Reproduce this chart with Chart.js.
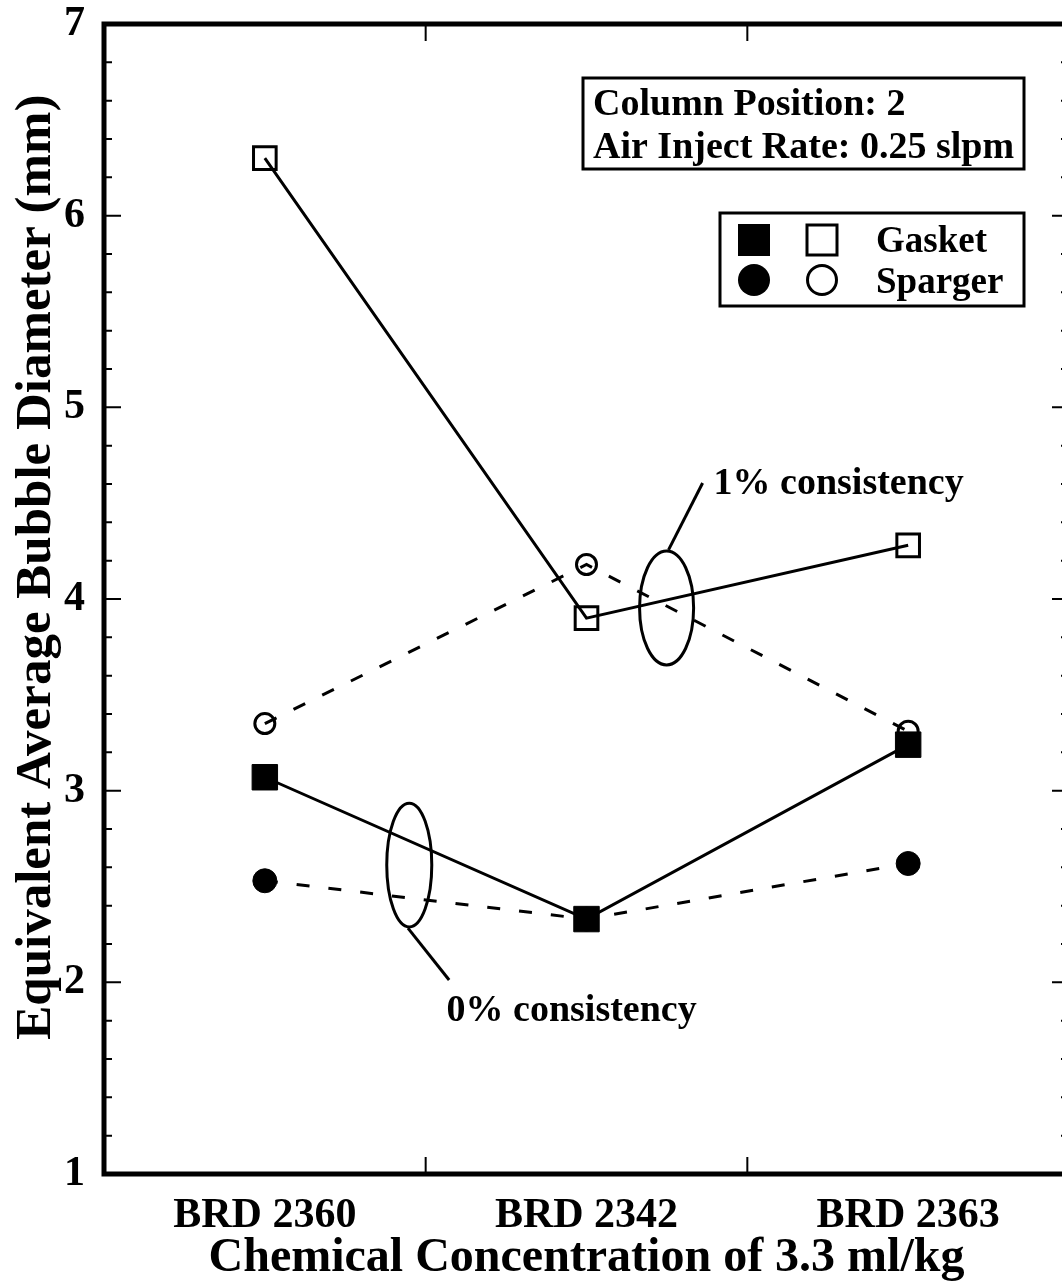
<!DOCTYPE html>
<html>
<head>
<meta charset="utf-8">
<script src="https://cdn.jsdelivr.net/npm/chart.js@4.4.0/dist/chart.umd.min.js"></script>
<style>
html, body { margin: 0; padding: 0; background: #fff; overflow: hidden; }
#wrap { width: 1088px; height: 1287px; }
</style>
</head>
<body>
<div id="wrap"><canvas id="bubbleChart" width="1088" height="1287"></canvas></div>
<script>
// data
const categories = ['BRD 2360', 'BRD 2342', 'BRD 2363'];
const yTicks = [1, 2, 3, 4, 5, 6, 7];
const gasket1 = [6.30, 3.90, 4.28];   // open squares, 1% consistency
const sparger1 = [3.35, 4.18, 3.31];  // open circles, 1% consistency
const gasket0 = [3.07, 2.33, 3.24];   // filled squares, 0% consistency
const sparger0 = [2.53, 2.33, 2.62];  // filled circles, 0% consistency

const FONT = 'Liberation Serif, Times New Roman, serif';

// notes on the plot, in axis units (x = category index)
const notes = [
    { text: '1% consistency', x: 1.395, y: 4.60, ex: 1.249, ey: 3.953, rx: 0.084, ry: 0.297,
      line: [1.361, 4.605, 1.255, 4.256] },
    { text: '0% consistency', x: 0.565, y: 1.85, ex: 0.449, ey: 2.612, rx: 0.070, ry: 0.323,
      line: [0.445, 2.283, 0.573, 2.012] }
];

const framePlugin = {
    id: 'frame',
    beforeDatasetsDraw(chart) {
        const { ctx, chartArea: a, scales: { x, y } } = chart;
        ctx.save();
        ctx.strokeStyle = '#000';
        ctx.lineWidth = 2;
        ctx.beginPath();
        for (let i = 1; i < 30; i++) {
            const py = y.getPixelForValue(1 + i * 0.2);
            const len = i % 5 === 0 ? 17 : 8;
            ctx.moveTo(a.left, py); ctx.lineTo(a.left + len, py);
            ctx.moveTo(a.right, py); ctx.lineTo(a.right - len, py);
        }
        for (let i = 0; i < categories.length - 1; i++) {
            const px = (x.getPixelForValue(i) + x.getPixelForValue(i + 1)) / 2;
            ctx.moveTo(px, a.top); ctx.lineTo(px, a.top + 17);
            ctx.moveTo(px, a.bottom); ctx.lineTo(px, a.bottom - 17);
        }
        ctx.stroke();
        ctx.lineWidth = 5;
        ctx.strokeRect(a.left, a.top, a.right - a.left, a.bottom - a.top);
        ctx.restore();
    },
    afterDatasetsDraw(chart) {
        const { ctx, scales: { x, y } } = chart;
        ctx.save();
        ctx.strokeStyle = '#000';
        ctx.fillStyle = '#000';
        ctx.lineWidth = 3;
        notes.forEach(n => {
            const cx = x.getPixelForValue(n.ex), cy = y.getPixelForValue(n.ey);
            const rx = Math.abs(x.getPixelForValue(n.ex + n.rx) - cx);
            const ry = Math.abs(y.getPixelForValue(n.ey + n.ry) - cy);
            ctx.beginPath();
            ctx.ellipse(cx, cy, rx, ry, 0, 0, Math.PI * 2);
            ctx.stroke();
            ctx.beginPath();
            ctx.moveTo(x.getPixelForValue(n.line[0]), y.getPixelForValue(n.line[1]));
            ctx.lineTo(x.getPixelForValue(n.line[2]), y.getPixelForValue(n.line[3]));
            ctx.stroke();
            ctx.font = 'bold 38px ' + FONT;
            ctx.textBaseline = 'middle';
            ctx.textAlign = 'left';
            ctx.fillText(n.text, x.getPixelForValue(n.x), y.getPixelForValue(n.y));
        });

        // info box
        ctx.lineWidth = 3;
        ctx.strokeRect(583, 78, 441, 91);
        ctx.font = 'bold 38px ' + FONT;
        ctx.textBaseline = 'alphabetic';
        ctx.fillText('Column Position: 2', 593, 115);
        ctx.fillText('Air Inject Rate: 0.25 slpm', 593, 158);

        // symbol key
        ctx.font = 'bold 37px ' + FONT;
        ctx.strokeRect(720, 213, 304, 93);
        ctx.fillRect(738, 224, 32, 32);
        ctx.strokeRect(807, 225, 30, 30);
        ctx.beginPath();
        ctx.arc(754, 280, 16, 0, Math.PI * 2);
        ctx.fill();
        ctx.beginPath();
        ctx.arc(822, 280, 14.5, 0, Math.PI * 2);
        ctx.stroke();
        ctx.fillText('Gasket', 876, 252);
        ctx.fillText('Sparger', 876, 293);
        ctx.restore();
    }
};

const ctx = document.getElementById('bubbleChart').getContext('2d');

const chartData = {
    labels: categories,
    datasets: [
        {
            label: 'Gasket 0%',
            data: gasket0,
            borderColor: '#000',
            borderWidth: 3,
            pointStyle: 'rect',
            pointRadius: 18,
            pointBackgroundColor: '#000',
            pointBorderColor: '#000',
            pointBorderWidth: 1
        },
        {
            label: 'Sparger 0%',
            data: sparger0,
            borderColor: '#000',
            borderWidth: 3,
            borderDash: [13, 19],
            pointStyle: 'circle',
            pointRadius: 12,
            pointBackgroundColor: '#000',
            pointBorderColor: '#000',
            pointBorderWidth: 1
        },
        {
            label: 'Gasket 1%',
            data: gasket1,
            borderColor: '#000',
            borderWidth: 3,
            pointStyle: 'rect',
            pointRadius: 16,
            pointBackgroundColor: 'rgba(0,0,0,0)',
            pointBorderColor: '#000',
            pointBorderWidth: 3
        },
        {
            label: 'Sparger 1%',
            data: sparger1,
            borderColor: '#000',
            borderWidth: 3,
            borderDash: [13, 19],
            pointStyle: 'circle',
            pointRadius: 10,
            pointBackgroundColor: 'rgba(0,0,0,0)',
            pointBorderColor: '#000',
            pointBorderWidth: 3
        }
    ]
};

// hidden tick marks only reserve the gap between axis and labels
const hiddenGrid = len => ({
    display: true,
    drawOnChartArea: false,
    drawTicks: true,
    tickLength: len,
    tickColor: 'rgba(0,0,0,0)'
});

const config = {
    type: 'line',
    data: chartData,
    options: {
        responsive: false,
        animation: false,
        devicePixelRatio: 1,
        layout: { padding: { top: 24, right: 8, left: 0, bottom: 0 } },
        plugins: {
            legend: { display: false },
            tooltip: { enabled: false }
        },
        scales: {
            x: {
                type: 'category',
                offset: true,
                grid: hiddenGrid(17),
                border: { display: false },
                ticks: {
                    color: '#000',
                    padding: 0,
                    font: { family: FONT, size: 42, weight: 'bold' }
                },
                title: {
                    display: true,
                    text: 'Chemical Concentration of 3.3 ml/kg',
                    color: '#000',
                    padding: { top: 0, bottom: 0 },
                    font: { family: FONT, size: 48, weight: 'bold' }
                },
                afterFit: s => { s.height = 113; }
            },
            y: {
                min: 1,
                max: 7,
                grid: hiddenGrid(19),
                border: { display: false },
                afterBuildTicks: s => { s.ticks = yTicks.map(v => ({ value: v })); },
                ticks: {
                    color: '#000',
                    padding: 0,
                    font: { family: FONT, size: 42, weight: 'bold', lineHeight: 1 }
                },
                title: {
                    display: true,
                    // leading spaces lift the title a little, as in the original
                    text: '\u00a0\u00a0\u00a0\u00a0\u00a0Equivalent Average Bubble Diameter (mm)',
                    color: '#000',
                    padding: { top: 6, bottom: 0 },
                    font: { family: FONT, size: 51, weight: 'bold' }
                },
                afterFit: s => { s.width = 104; }
            }
        }
    },
    plugins: [framePlugin]
};

const chart = new Chart(ctx, config);
</script>
</body>
</html>
